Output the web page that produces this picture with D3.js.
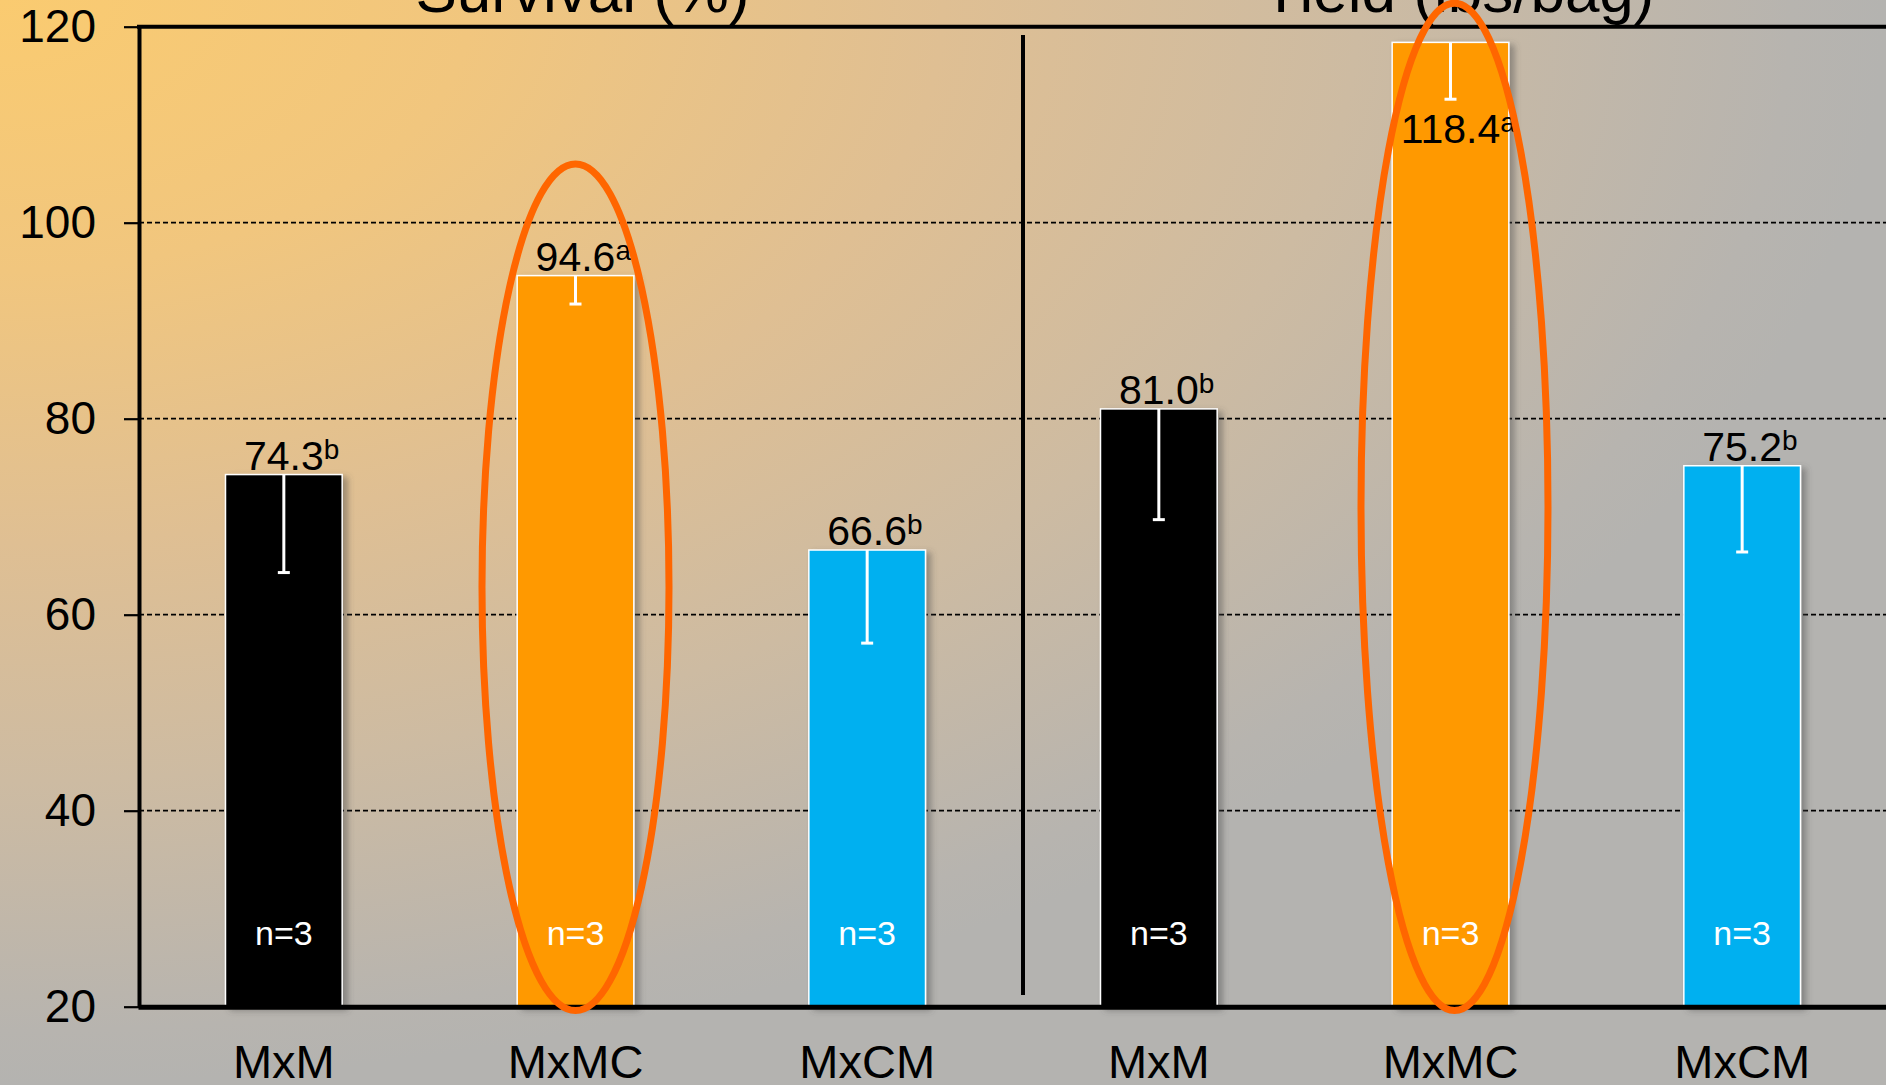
<!DOCTYPE html>
<html>
<head>
<meta charset="utf-8">
<script src="https://cdn.jsdelivr.net/npm/d3@7"></script>
<style>
  html, body { margin: 0; padding: 0; background: #b4b3b0; }
  svg { display: block; font-family: "Liberation Sans", Arial, Helvetica, sans-serif; }
</style>
</head>
<body>
<svg id="chart" width="1886" height="1085"></svg>
<script>
// Treatment groups shown in each panel
const categories = ["MxM", "MxMC", "MxCM"];
const panelTitles = ["Survival (%)", "Yield (lbs/bag)"];

// Survival panel
const survivalMeans = [74.3, 94.6, 66.6];
const survivalErrors = [10.0, 2.9, 9.5];
const survivalLetters = ["b", "a", "b"];

// Yield panel
const yieldMeans = [81.0, 118.4, 75.2];
const yieldErrors = [11.3, 5.8, 8.8];
const yieldLetters = ["b", "a", "b"];

// Replicates per bar
const sampleSizes = [3, 3, 3, 3, 3, 3];

// Y axis ticks
const yTicks = [20, 40, 60, 80, 100, 120];

// Highlighted bars (panel index, category index) and the value span of each ring
const highlights = [
  { panel: 0, cat: 1, lo: 19.6, hi: 106.0 },
  { panel: 1, cat: 1, lo: 19.6, hi: 122.4 }
];

const W = 1886, H = 1085;
const svg = d3.select("#chart");
const barColors = ["#000000", "#ff9900", "#00b0f0"];

// Build the flat list of bars from the named arrays
const panels = [
  { means: survivalMeans, errors: survivalErrors, letters: survivalLetters },
  { means: yieldMeans, errors: yieldErrors, letters: yieldLetters }
];
const bars = [];
panels.forEach((p, pi) => {
  categories.forEach((c, ci) => {
    bars.push({
      key: pi + "-" + c,
      panel: pi,
      cat: ci,
      label: c,
      value: p.means[ci],
      err: p.errors[ci],
      letter: p.letters[ci],
      n: sampleSizes[pi * categories.length + ci]
    });
  });
});

const x = d3.scaleBand()
  .domain(bars.map(d => d.key))
  .range([138, 1888])
  .paddingInner(0.6)
  .paddingOuter(0.3);

const y = d3.scaleLinear().domain([20, 120]).range([1006.7, 26.7]);

const defs = svg.append("defs");

// Warm corner fading to grey
const bg = defs.append("radialGradient")
  .attr("id", "bgGrad")
  .attr("cx", 0).attr("cy", 0).attr("r", 1)
  .attr("fx", 0).attr("fy", 0);
[
  [0, "#facb70"],
  [0.25, "#f1c67e"],
  [0.5, "#dfbf93"],
  [0.72, "#cdbba2"],
  [0.95, "#b7b4af"],
  [1, "#b4b3b0"]
].forEach(([o, c]) => bg.append("stop").attr("offset", o).attr("stop-color", c));

const shadow = defs.append("filter")
  .attr("id", "barShadow")
  .attr("x", "-20%").attr("y", "-5%").attr("width", "150%").attr("height", "115%");
shadow.append("feDropShadow")
  .attr("dx", 5).attr("dy", 3)
  .attr("stdDeviation", 3)
  .attr("flood-color", "#4a4a4a")
  .attr("flood-opacity", 0.45);

svg.append("rect")
  .attr("width", W).attr("height", H)
  .attr("fill", "url(#bgGrad)");

const plotLeft = 139, plotRight = W;

// Dashed gridlines
svg.append("g")
  .selectAll("line")
  .data(yTicks.filter(t => t > 20 && t < 120))
  .join("line")
  .attr("x1", plotLeft).attr("x2", plotRight)
  .attr("y1", d => y(d)).attr("y2", d => y(d))
  .attr("stroke", "#000")
  .attr("stroke-width", 1.8)
  .attr("stroke-dasharray", "5,3");

// Divider between panels
const groupEdge = (x(bars[2].key) + x.bandwidth() + x(bars[3].key)) / 2 + 10;
svg.append("line")
  .attr("x1", groupEdge).attr("x2", groupEdge)
  .attr("y1", 35).attr("y2", 995)
  .attr("stroke", "#000")
  .attr("stroke-width", 4);

// Bars
svg.append("g")
  .selectAll("rect")
  .data(bars)
  .join("rect")
  .attr("x", d => x(d.key))
  .attr("width", x.bandwidth())
  .attr("y", d => y(d.value))
  .attr("height", d => y(20) - y(d.value))
  .attr("fill", d => barColors[d.cat])
  .attr("stroke", "#ffffff")
  .attr("stroke-width", 1.5)
  .attr("filter", "url(#barShadow)");

// Error bars (downward, white)
const eb = svg.append("g").attr("stroke", "#ffffff").attr("stroke-width", 3);
bars.forEach(d => {
  const cx = x(d.key) + x.bandwidth() / 2;
  eb.append("line")
    .attr("x1", cx).attr("x2", cx)
    .attr("y1", y(d.value)).attr("y2", y(d.value - d.err));
  eb.append("line")
    .attr("x1", cx - 6).attr("x2", cx + 6)
    .attr("y1", y(d.value - d.err)).attr("y2", y(d.value - d.err));
});

// Value labels with significance letters
const fmt = d3.format(".1f");
const valueSize = 41;
bars.forEach(d => {
  const cx = x(d.key) + x.bandwidth() / 2;
  const top = y(d.value);
  let baseline = top - 5;
  if (baseline - valueSize * 0.75 < y(120)) {
    // no room above the bar: sit just under the error cap
    baseline = y(d.value - d.err) + 44;
  }
  const t = svg.append("text")
    .attr("y", baseline)
    .attr("fill", "#000")
    .attr("font-size", valueSize);
  const num = t.append("tspan").text(fmt(d.value));
  t.append("tspan")
    .attr("font-size", 28)
    .attr("dy", -11)
    .text(d.letter);
  const w = num.node().getComputedTextLength();
  t.attr("x", cx - w / 2);
});

// Sample size inside each bar
svg.append("g")
  .selectAll("text")
  .data(bars)
  .join("text")
  .attr("x", d => x(d.key) + x.bandwidth() / 2)
  .attr("y", 945)
  .attr("text-anchor", "middle")
  .attr("fill", "#ffffff")
  .attr("font-size", 34)
  .text(d => "n=" + d.n);

// Left axis
const yAxis = svg.append("g")
  .attr("transform", `translate(${plotLeft},0)`)
  .call(d3.axisLeft(y).tickValues(yTicks).tickSize(15).tickSizeOuter(0).tickPadding(28));
yAxis.select(".domain").attr("stroke", "#000").attr("stroke-width", 4);
yAxis.selectAll(".tick line").attr("stroke", "#000").attr("stroke-width", 2.2);
yAxis.selectAll(".tick text")
  .attr("font-family", "Liberation Sans, Arial, sans-serif")
  .attr("font-size", 46)
  .attr("fill", "#000");

// Bottom axis
const xAxis = svg.append("g")
  .attr("transform", `translate(0,${y(20)})`)
  .call(d3.axisBottom(x).tickSize(0).tickSizeOuter(0).tickFormat(k => bars.find(b => b.key === k).label));
xAxis.select(".domain").attr("stroke", "#000").attr("stroke-width", 5);
xAxis.selectAll(".tick text")
  .attr("dy", null)
  .attr("y", 71)
  .attr("font-family", "Liberation Sans, Arial, sans-serif")
  .attr("font-size", 47)
  .attr("fill", "#000");

// Top border
svg.append("line")
  .attr("x1", plotLeft - 2).attr("x2", plotRight)
  .attr("y1", y(120)).attr("y2", y(120))
  .attr("stroke", "#000").attr("stroke-width", 4);

// Panel titles
const panelCenters = [
  (x.range()[0] + groupEdge) / 2,
  (groupEdge + x.range()[1]) / 2
];
svg.append("g")
  .selectAll("text")
  .data(panelTitles)
  .join("text")
  .attr("x", (d, i) => panelCenters[i] + 2)
  .attr("y", 12)
  .attr("text-anchor", "middle")
  .attr("font-size", 62)
  .attr("fill", "#000")
  .text(d => d);

// Highlight rings around the MxMC bars
svg.append("g")
  .selectAll("ellipse")
  .data(highlights)
  .join("ellipse")
  .attr("cx", d => x(bars[d.panel * categories.length + d.cat].key) + x.bandwidth() / 2 + (d.panel ? 4 : 0))
  .attr("cy", d => (y(d.lo) + y(d.hi)) / 2)
  .attr("rx", 93.5)
  .attr("ry", d => (y(d.lo) - y(d.hi)) / 2)
  .attr("fill", "none")
  .attr("stroke", "#ff6600")
  .attr("stroke-width", 7);
</script>
</body>
</html>
